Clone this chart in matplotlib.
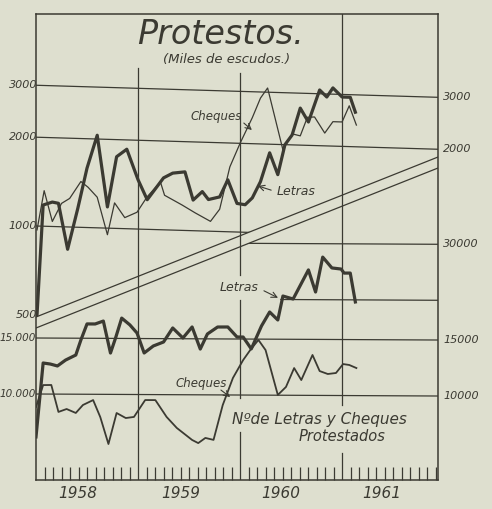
import numpy as np
import matplotlib.pyplot as plt
from matplotlib.patches import Polygon
from matplotlib.transforms import Affine2D

# Protestos, miles de escudos (upper panel)
letras_esc_x = [1958.01, 1958.07, 1958.16, 1958.22, 1958.31, 1958.41, 1958.50, 1958.60,
                1958.70, 1958.79, 1958.89, 1959.00, 1959.09, 1959.25, 1959.34, 1959.46,
                1959.54, 1959.63, 1959.69, 1959.80, 1959.88, 1959.97, 1960.05, 1960.12,
                1960.20, 1960.29, 1960.37, 1960.44, 1960.51, 1960.59, 1960.67, 1960.78,
                1960.85, 1960.91, 1961.00, 1961.08, 1961.13]
letras_esc = [500, 1180, 1210, 1200, 840, 1160, 1590, 2060, 1180, 1750, 1860, 1470, 1260,
              1500, 1560, 1580, 1270, 1360, 1280, 1310, 1500, 1250, 1240, 1310, 1490, 1870,
              1580, 2000, 2160, 2670, 2400, 3090, 2930, 3150, 2940, 2940, 2620]

cheques_esc_x = [1958.01, 1958.08, 1958.16, 1958.25, 1958.33, 1958.44, 1958.51, 1958.60,
                 1958.70, 1958.77, 1958.87, 1958.99, 1959.09, 1959.22, 1959.26, 1959.43,
                 1959.56, 1959.71, 1959.80, 1959.90, 1960.00, 1960.12, 1960.20, 1960.27,
                 1960.34, 1960.42, 1960.51, 1960.59, 1960.66, 1960.73, 1960.83, 1960.91,
                 1961.00, 1961.07, 1961.14]
cheques_esc = [970, 1320, 1040, 1200, 1250, 1430, 1370, 1270, 950, 1220, 1090, 1140, 1290,
               1450, 1310, 1220, 1150, 1080, 1190, 1660, 2000, 2450, 2860, 3100, 2480, 1920,
               2180, 2150, 2490, 2500, 2210, 2420, 2420, 2750, 2370]

# Numero de letras y cheques protestados (lower panel)
letras_num_x = [1958.00, 1958.07, 1958.14, 1958.21, 1958.29, 1958.39, 1958.44, 1958.50,
                1958.58, 1958.66, 1958.73, 1958.78, 1958.84, 1958.92, 1958.99, 1959.06,
                1959.15, 1959.25, 1959.34, 1959.44, 1959.53, 1959.61, 1959.68, 1959.78,
                1959.88, 1959.97, 1960.03, 1960.11, 1960.21, 1960.29, 1960.37, 1960.42,
                1960.52, 1960.67, 1960.74, 1960.81, 1960.90, 1960.99, 1961.02, 1961.08,
                1961.13]
letras_num = [7330, 12520, 12430, 12260, 12800, 13280, 14810, 16640, 16640, 17000, 13490,
              15050, 17380, 16550, 15610, 13510, 14220, 14640, 16210, 15080, 16340, 13930,
              15540, 16350, 16360, 15220, 15220, 13970, 16500, 18260, 17240, 20510, 20080,
              24800, 21140, 27230, 25180, 24990, 24270, 24280, 19700]

cheques_num_x = [1958.00, 1958.07, 1958.15, 1958.22, 1958.30, 1958.39, 1958.46, 1958.56,
                 1958.63, 1958.71, 1958.79, 1958.88, 1958.96, 1959.07, 1959.17, 1959.28,
                 1959.38, 1959.53, 1959.59, 1959.66, 1959.74, 1959.83, 1959.93, 1960.03,
                 1960.10, 1960.18, 1960.25, 1960.37, 1960.45, 1960.53, 1960.60, 1960.71,
                 1960.78, 1960.86, 1960.94, 1961.01, 1961.07, 1961.14]
cheques_num = [9100, 10670, 10680, 8790, 8980, 8730, 9250, 9590, 8480, 6980, 8740, 8430,
               8500, 9610, 9610, 8510, 7860, 7210, 7050, 7320, 7220, 9290, 11310, 12880,
               13860, 14910, 13860, 10020, 10620, 12180, 11170, 13400, 11930, 11680, 11770,
               12560, 12480, 12210]

years = ['1958', '1959', '1960', '1961']

paper = '#dedfcf'
ink = '#3b3a32'

fig = plt.figure(figsize=(4.92, 5.09), dpi=100, facecolor=paper)
pos = [36 / 492, 29 / 509, 402 / 492, 466 / 509]
ax = fig.add_axes(pos, facecolor=paper)
ax2 = fig.add_axes(pos, facecolor='none')

ax.set_yscale('log')
ax.set_ylim(137.7, 5232)
ax2.set_yscale('log')
ax2.set_ylim(5365, 156660)
for a in (ax, ax2):
    a.set_xlim(1958, 1961.94)
ax2.axis('off')
ax.tick_params(axis='y', which='both', left=False, labelleft=False)


def tilted(a, slope):
    # the hand-drawn grid is not quite level
    m = np.array([[1.0, 0.0, 0.0], [-slope, 1.0, slope * 36], [0.0, 0.0, 1.0]])
    return a.transData + Affine2D(m)


T1 = tilted(ax, 0.03)
T2 = tilted(ax2, 0.005)

# diagonal double line that separates the two panels
up_l, up_r = 0.3498, 0.6931
lo_l, lo_r = 0.3262, 0.6695
clip_top = Polygon([[0, up_l], [1, up_r], [1, 1.02], [0, 1.02]], closed=True,
                   transform=ax.transAxes)
clip_bot = Polygon([[0, -0.02], [1, -0.02], [1, lo_r], [0, lo_l]], closed=True,
                   transform=ax2.transAxes)
ax.plot([0, 1], [up_l, up_r], transform=ax.transAxes, color=ink, lw=0.9)
ax.plot([0, 1], [lo_l, lo_r], transform=ax.transAxes, color=ink, lw=0.9)

# grid lines
for v in [3000, 2000, 1000]:
    ln, = ax.plot([1958, 1961.94], [v, v], transform=T1, color=ink, lw=0.9)
    ln.set_clip_path(clip_top)
for v in [30000, 15000, 10000]:
    ln, = ax2.plot([1958, 1961.94], [v, v], transform=T2, color=ink, lw=0.9)
    ln.set_clip_path(clip_bot)
ln, = ax2.plot([1960.40, 1961.94], [20000, 20000], transform=T2, color=ink, lw=0.9)
ln.set_clip_path(clip_bot)

# year lines
ax.axvline(1959, 0, 0.884, color=ink, lw=0.9)
for lo, hi in [(0.440, 0.873), (0.176, 0.386), (0, 0.103)]:
    ax.axvline(1960, lo, hi, color=ink, lw=0.9)
for lo, hi in [(0.161, 1), (0, 0.058)]:
    ax.axvline(1961, lo, hi, color=ink, lw=0.9)

# series
for a, T, clip, xs, ys, w in [(ax, T1, clip_top, letras_esc_x, letras_esc, 2.3),
                              (ax, T1, clip_top, cheques_esc_x, cheques_esc, 0.9),
                              (ax2, T2, clip_bot, letras_num_x, letras_num, 2.3),
                              (ax2, T2, clip_bot, cheques_num_x, cheques_num, 1.3)]:
    ln, = a.plot(xs, ys, transform=T, color=ink, lw=w, solid_joinstyle='round')
    ln.set_clip_path(clip)

# value labels
lab = dict(style='italic', color=ink, va='center', fontsize=8)
for v, s in [(3000, '3000'), (2000, '2000'), (1000, '1000'), (500, '500')]:
    ax.text(1958.01, v, s, transform=T1, ha='right', **lab)
for v, s in [(3000, '3000'), (2000, '2000')]:
    ax.text(1961.99, v, s, transform=T1, ha='left', **lab)
for v, s in [(15000, '15.000'), (10000, '10.000')]:
    ax2.text(1958.0, v, s, transform=T2, ha='right', fontsize=7.5,
             style='italic', color=ink, va='center')
for v, s in [(30000, '30000'), (15000, '15000'), (10000, '10000')]:
    ax2.text(1961.99, v, s, transform=T2, ha='left', **lab)

# x axis: month ticks, year labels
months = [1958 + k / 12 for k in range(1, 48) if k % 12]
ax.set_xticks(months, minor=True)
ax.set_xticks([1958.41, 1959.42, 1960.40, 1961.39], labels=years)
ax.tick_params(axis='x', which='minor', direction='in', length=9.5, width=0.9, color=ink)
ax.tick_params(axis='x', which='major', length=0, pad=4, labelsize=11, labelcolor=ink)
for t in ax.get_xticklabels():
    t.set_fontstyle('italic')
for s in ax.spines.values():
    s.set_color(ink)
    s.set_linewidth(1.1)

# titles and notes
txt = dict(transform=ax.transAxes, style='italic', color=ink, ha='center', va='center')
ax.text(0.458, 0.955, 'Protestos.', fontsize=24, **txt)
ax.text(0.475, 0.902, '(Miles de escudos.)', fontsize=9.5, **txt)
ax.text(0.448, 0.779, 'Cheques', fontsize=8.5, **txt)
ax.text(0.648, 0.620, 'Letras', fontsize=9, **txt)
ax.text(0.505, 0.414, 'Letras', fontsize=9, **txt)
ax.text(0.410, 0.208, 'Cheques', fontsize=8.5, **txt)
ax.text(0.706, 0.130, 'Nºde Letras y Cheques', fontsize=11, **txt)
ax.text(0.762, 0.093, 'Protestados', fontsize=10.5, **txt)

arrow = dict(arrowstyle='->', lw=0.8, color=ink, shrinkA=0, shrinkB=0)
for tail, tip in [((0.517, 0.766), (0.537, 0.751)),
                  ((0.585, 0.622), (0.552, 0.631)),
                  ((0.567, 0.406), (0.602, 0.391)),
                  ((0.460, 0.193), (0.483, 0.178))]:
    ax.annotate('', xy=tip, xytext=tail, xycoords='axes fraction', arrowprops=arrow)

fig.savefig('out.png', dpi=100, facecolor=paper)
